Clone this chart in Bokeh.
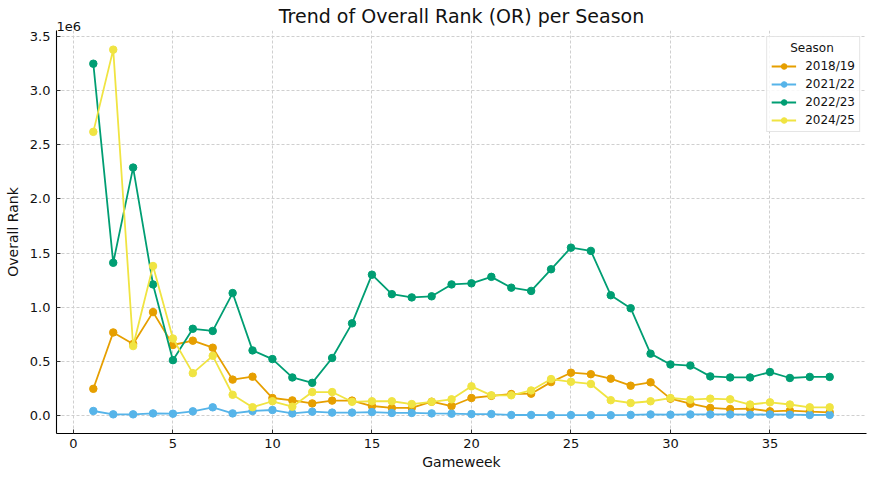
from bokeh.plotting import figure
from bokeh.embed import file_html
from bokeh.resources import INLINE
from bokeh.models import FixedTicker, Range1d, Legend, LegendItem, Title

gameweeks = list(range(1, 39))
seasons = ["2018/19", "2021/22", "2022/23", "2024/25"]
colors = ["#E69F00", "#56B4E9", "#009E73", "#F0E442"]

or_2018_19 = [245000, 766000, 660000, 954000, 650000, 690000, 625000, 330000, 357000, 160000,
              138000, 110000, 136000, 136000, 86000, 68000, 68000, 126000, 86000, 160000,
              180000, 197000, 200000, 307000, 394000, 380000, 339000, 274000, 305000, 154000,
              108000, 68000, 58000, 62000, 37000, 43000, 34000, 28000]
or_2021_22 = [40000, 9000, 9000, 18000, 15000, 37000, 74000, 18000, 40000, 49000,
              18000, 34000, 25000, 25000, 30000, 22000, 22000, 18000, 15000, 12000,
              12000, 3000, 3000, 2000, 2000, 2000, 1000, 4000, 8000, 6000,
              8000, 8000, 8000, 6000, 8000, 6000, 3000, 4000]
or_2022_23 = [3250000, 1410000, 2290000, 1210000, 510000, 800000, 780000, 1130000, 600000, 520000,
              350000, 300000, 530000, 850000, 1300000, 1120000, 1090000, 1100000, 1210000, 1220000,
              1280000, 1180000, 1150000, 1350000, 1550000, 1520000, 1110000, 990000, 570000, 470000,
              460000, 360000, 350000, 350000, 400000, 345000, 355000, 355000]
or_2024_25 = [2620000, 3380000, 640000, 1380000, 710000, 390000, 550000, 190000, 75000, 130000,
              80000, 215000, 215000, 125000, 130000, 130000, 104000, 125000, 148000, 268000,
              185000, 185000, 230000, 335000, 310000, 290000, 140000, 114000, 130000, 160000,
              145000, 154000, 148000, 100000, 120000, 100000, 74000, 74000]
series = [or_2018_19, or_2021_22, or_2022_23, or_2024_25]

x_ticks = [0, 5, 10, 15, 20, 25, 30, 35]
y_ticks = [0, 500000, 1000000, 1500000, 2000000, 2500000, 3000000, 3500000]
y_tick_labels = ["0.0", "0.5", "1.0", "1.5", "2.0", "2.5", "3.0", "3.5"]

FONT = "DejaVu Sans"
TXT = "#111111"

p = figure(width=875, height=480, output_backend="svg", toolbar_location=None, title=None,
           x_range=Range1d(-0.85, 39.85), y_range=Range1d(-168000, 3557000),
           min_border_left=56, min_border_right=9, min_border_top=30, min_border_bottom=47)

t_off = Title(text="1e6", align="left", text_font=FONT, text_font_size="13px",
              text_font_style="normal", text_color=TXT, standoff=0, offset=0)
p.add_layout(t_off, "above")
t_main = Title(text="Trend of Overall Rank (OR) per Season", align="center", text_font=FONT,
               text_font_size="19px", text_font_style="normal", text_color=TXT,
               standoff=-15, offset=0)
p.add_layout(t_main, "above")

p.outline_line_color = None
p.background_fill_color = "white"
p.border_fill_color = "white"

items = []
for name, col, vals in zip(seasons, colors, series):
    r1 = p.line(gameweeks, vals, line_color=col, line_width=1.8)
    r2 = p.scatter(gameweeks, vals, size=7.5, fill_color=col, line_color=col)
    items.append(LegendItem(label=name, renderers=[r1, r2]))

for ax in [p.xaxis[0], p.yaxis[0]]:
    ax.axis_line_color = "black"
    ax.axis_line_width = 1.1
    ax.major_tick_in = 4
    ax.major_tick_out = 0
    ax.minor_tick_in = 0
    ax.minor_tick_out = 0
    ax.major_tick_line_color = "#333333"
    ax.major_label_text_font = FONT
    ax.major_label_text_font_size = "13px"
    ax.major_label_text_color = TXT
    ax.axis_label_text_font = FONT
    ax.axis_label_text_font_size = "14px"
    ax.axis_label_text_font_style = "normal"
    ax.axis_label_text_color = TXT

p.xaxis.ticker = FixedTicker(ticks=x_ticks)
p.yaxis.ticker = FixedTicker(ticks=y_ticks)
p.yaxis.major_label_overrides = {t: l for t, l in zip(y_ticks, y_tick_labels)}
p.xaxis.axis_label = "Gameweek"
p.yaxis.axis_label = "Overall Rank"
p.xaxis.major_label_standoff = 5
p.yaxis.major_label_standoff = 6
p.xaxis.axis_label_standoff = 3
p.yaxis.axis_label_standoff = 6

p.xgrid.grid_line_color = "#cfcfcf"
p.ygrid.grid_line_color = "#cfcfcf"
p.xgrid.grid_line_dash = "3 2"
p.ygrid.grid_line_dash = "3 2"

legend = Legend(items=items, location="top_right")
legend.title = "\u00a0" * 5 + "Season"
legend.title_text_font = FONT
legend.title_text_font_size = "12px"
legend.title_text_font_style = "normal"
legend.title_text_color = TXT
legend.title_standoff = 4
legend.label_text_font = FONT
legend.label_text_font_size = "12px"
legend.label_text_color = TXT
legend.border_line_color = "#cccccc"
legend.border_line_width = 1
legend.background_fill_alpha = 0.85
legend.glyph_width = 25
legend.glyph_height = 14
legend.label_height = 14
legend.spacing = 4
legend.padding = 4
legend.margin = 6
legend.label_standoff = 9
p.add_layout(legend)

open("out.html", "w").write(file_html(p, INLINE))
